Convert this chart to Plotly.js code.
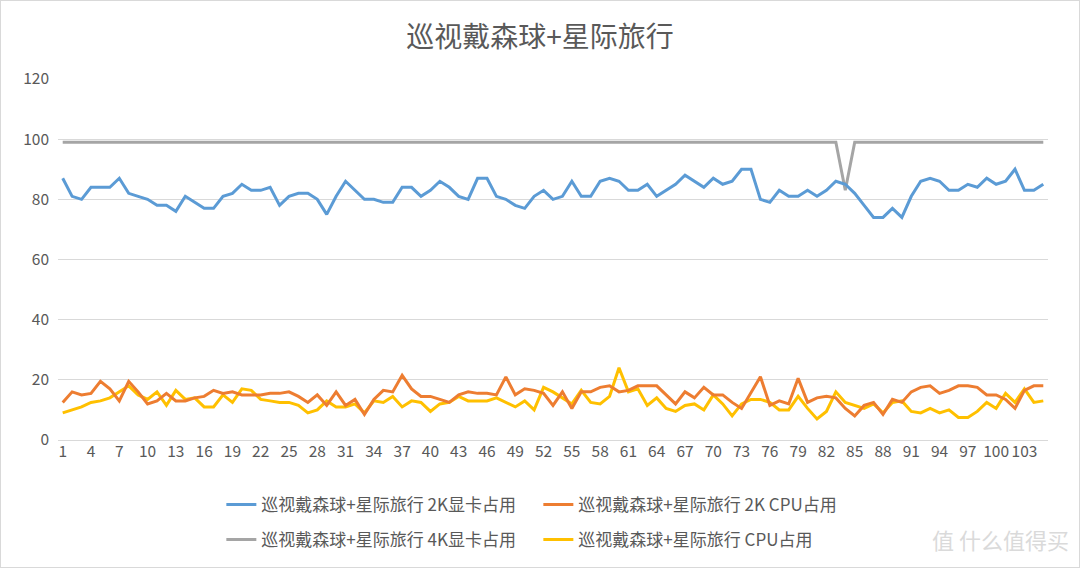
<!DOCTYPE html>
<html>
<head>
<meta charset="utf-8">
<script src="https://cdn.plot.ly/plotly-3.0.1.min.js"></script>
<style>
  html, body { margin: 0; padding: 0; background: #fff; }
  #wrap { position: relative; width: 1080px; height: 568px; }
  #chart { width: 1080px; height: 568px; }
  #frame { position: absolute; left: 0; top: 0; width: 1080px; height: 568px;
           box-sizing: border-box; border: 1px solid #d9d9d9; pointer-events: none; }
</style>
</head>
<body>
<div id="wrap">
  <div id="chart"></div>
  <div id="frame"></div>
</div>
<script>
const chartTitle = '巡视戴森球+星际旅行';
const seriesNames = [
    '巡视戴森球+星际旅行 2K显卡占用',
    '巡视戴森球+星际旅行 2K CPU占用',
    '巡视戴森球+星际旅行 4K显卡占用',
    '巡视戴森球+星际旅行 CPU占用'
];

const gpu2k = [87, 81, 80, 84, 84, 84, 87, 82, 81, 80, 78, 78, 76, 81, 79, 77, 77, 81, 82, 85,
    83, 83, 84, 78, 81, 82, 82, 80, 75, 81, 86, 83, 80, 80, 79, 79, 84, 84, 81, 83,
    86, 84, 81, 80, 87, 87, 81, 80, 78, 77, 81, 83, 80, 81, 86, 81, 81, 86, 87, 86,
    83, 83, 85, 81, 83, 85, 88, 86, 84, 87, 85, 86, 90, 90, 80, 79, 83, 81, 81, 83,
    81, 83, 86, 85, 82, 78, 74, 74, 77, 74, 81, 86, 87, 86, 83, 83, 85, 84, 87, 85,
    86, 90, 83, 83, 85];

const cpu2k = [12.5, 16, 15, 15.5, 19.5, 17, 13, 19.5, 16, 12, 13, 15.5, 13, 13, 14, 14.5, 16.5, 15.5, 16, 15,
    15, 15, 15.5, 15.5, 16, 14.5, 12.5, 15, 11.5, 16, 11.5, 13.5, 8.5, 13.5, 16.5, 16, 21.5, 17, 14.5, 14.5,
    13.5, 12.5, 15, 16, 15.5, 15.5, 15, 21, 15, 17, 16.5, 15.5, 11.5, 16, 10.5, 16, 16, 17.5, 18, 16,
    16.5, 18, 18, 18, 15, 12, 16, 14, 17.5, 15, 15, 12.5, 10.5, 16, 21, 11.5, 13, 12, 20.5, 12.5,
    14, 14.5, 14, 10.5, 8, 11.5, 12.5, 8.5, 13.5, 12.5, 16, 17.5, 18, 15.5, 16.5, 18, 18, 17.5, 15, 15,
    13.5, 10.5, 16.5, 18, 18];

const gpu4k = [99, 99, 99, 99, 99, 99, 99, 99, 99, 99, 99, 99, 99, 99, 99, 99, 99, 99, 99, 99,
    99, 99, 99, 99, 99, 99, 99, 99, 99, 99, 99, 99, 99, 99, 99, 99, 99, 99, 99, 99,
    99, 99, 99, 99, 99, 99, 99, 99, 99, 99, 99, 99, 99, 99, 99, 99, 99, 99, 99, 99,
    99, 99, 99, 99, 99, 99, 99, 99, 99, 99, 99, 99, 99, 99, 99, 99, 99, 99, 99, 99,
    99, 99, 99, 83, 99, 99, 99, 99, 99, 99, 99, 99, 99, 99, 99, 99, 99, 99, 99, 99,
    99, 99, 99, 99, 99];

const cpu4k = [9, 10, 11, 12.5, 13, 14, 16, 18, 15, 13.5, 16, 11.5, 16.5, 13.5, 14, 11, 11, 15, 12.5, 17,
    16.5, 13.5, 13, 12.5, 12.5, 11.5, 9, 10, 13, 11, 11, 12, 9, 13, 12.5, 14.5, 11, 13, 12.5, 9.5,
    12, 12.5, 14.5, 13, 13, 13, 14, 12.5, 11, 13, 10, 17.5, 16, 14, 12, 16.5, 12.5, 12, 14.5, 24,
    16, 17, 11.5, 14, 10.5, 9.5, 11.5, 12, 10, 15, 12, 8, 12, 13.5, 13.5, 12.5, 10, 10, 14.5, 10.5,
    7, 9.5, 16, 12.5, 11.5, 10.5, 12, 9, 12.5, 13, 9.5, 9, 10.5, 9, 10, 7.5, 7.5, 9.5, 12.5, 10.5,
    15.5, 12.5, 17, 12.5, 13];

const samples = gpu2k.map((_, i) => i + 1);

const colors = ['#5B9BD5', '#ED7D31', '#A5A5A5', '#FFC000'];
const FONT = '"Noto Sans CJK SC", "Noto Sans", sans-serif';

function makeTrace(y, idx, legendId) {
    return {
        x: samples,
        y: y,
        type: 'scatter',
        mode: 'lines',
        name: seriesNames[idx],
        line: { color: colors[idx], width: 3, shape: 'linear' },
        legend: legendId,
        hoverinfo: 'x+y+name'
    };
}

// draw order: gray behind, blue, then cpu lines
const traces = [
    makeTrace(gpu4k, 2, 'legend2'),
    makeTrace(gpu2k, 0, 'legend'),
    makeTrace(cpu4k, 3, 'legend2'),
    makeTrace(cpu2k, 1, 'legend')
];

const legendCommon = {
    orientation: 'h',
    xanchor: 'left',
    yanchor: 'middle',
    x: 0.165,
    entrywidth: 272,
    entrywidthmode: 'pixels',
    traceorder: 'normal',
    font: { family: FONT, size: 17, color: '#595959' },
    bgcolor: 'rgba(0,0,0,0)'
};

const layout = {
    width: 1080,
    height: 568,
    paper_bgcolor: '#ffffff',
    plot_bgcolor: '#ffffff',
    margin: { l: 58, r: 32, t: 79, b: 127 },
    title: {
        text: chartTitle,
        x: 0.5,
        xanchor: 'center',
        y: 0.935,
        yanchor: 'middle',
        font: { family: FONT, size: 28, color: '#595959' }
    },
    xaxis: {
        range: [0.5, 105.5],
        tickmode: 'linear',
        tick0: 1,
        dtick: 3,
        showgrid: false,
        zeroline: false,
        showline: false,
        ticks: '',
        tickfont: { family: FONT, size: 15.5, color: '#595959' },
        fixedrange: true
    },
    yaxis: {
        range: [0, 120],
        tickmode: 'linear',
        tick0: 0,
        dtick: 20,
        showgrid: true,
        gridcolor: '#d9d9d9',
        gridwidth: 1,
        zeroline: true,
        zerolinecolor: '#d9d9d9',
        zerolinewidth: 1,
        showline: false,
        ticks: '',
        ticklabelstandoff: 8,
        tickfont: { family: FONT, size: 15.5, color: '#595959' },
        fixedrange: true
    },
    showlegend: true,
    legend: Object.assign({}, legendCommon, { y: -0.177 }),
    legend2: Object.assign({}, legendCommon, { y: -0.273 }),
    annotations: [{
        xref: 'paper', yref: 'paper',
        x: 1.023, y: -0.275,
        xanchor: 'right', yanchor: 'middle',
        text: '值 什么值得买',
        showarrow: false,
        font: { family: FONT, size: 22, color: '#dadada' }
    }],
    hovermode: 'closest'
};

Plotly.newPlot('chart', traces, layout, { displayModeBar: false, staticPlot: true });
</script>
</body>
</html>
